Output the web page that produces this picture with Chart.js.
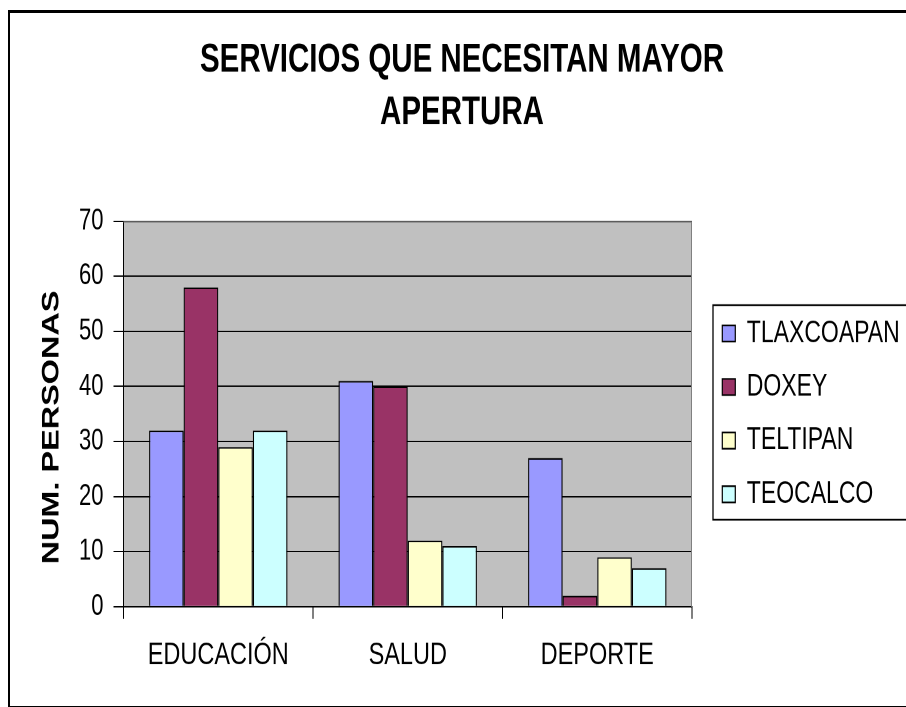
<!DOCTYPE html>
<html>
<head>
<meta charset="utf-8">
<title>Servicios que necesitan mayor apertura</title>
<script src="https://cdn.jsdelivr.net/npm/chart.js@4.4.1/dist/chart.umd.min.js"></script>
<style>
    html, body { margin: 0; padding: 0; background: #fff; overflow: hidden; width: 906px; height: 707px; }
    #frame { position: absolute; left: 8px; top: 10px; width: 1000px; height: 693px; border: 2px solid #000; border-top-width: 3px; }
    /* the original picture is stretched vertically, so the chart is drawn flat and scaled */
    #wrap { position: absolute; left: 0; top: 0; width: 911px; height: 524px; transform: scaleY(1.35); transform-origin: 0 0; }
</style>
</head>
<body>
<div id="frame"></div>
<div id="wrap"><canvas id="serviciosChart" width="911" height="524"></canvas></div>
<script>
const categories = ['EDUCACIÓN', 'SALUD', 'DEPORTE'];
const seriesNames = ['TLAXCOAPAN', 'DOXEY', 'TELTIPAN', 'TEOCALCO'];
const tlaxcoapan = [32, 41, 27];
const doxey = [58, 40, 2];
const teltipan = [29, 12, 9];
const teocalco = [32, 11, 7];
const yMin = 0;
const yMax = 70;
const yStep = 10;

const colors = ['#9999FF', '#993366', '#FFFFCC', '#CCFFFF'];
const values = [tlaxcoapan, doxey, teltipan, teocalco];
const fontFamily = "'Liberation Sans', Arial, sans-serif";

// gray plot area, its outline and the box round the legend
const plotBackground = {
    id: 'plotBackground',
    beforeDraw(chart) {
        const { ctx, chartArea } = chart;
        ctx.save();
        ctx.fillStyle = '#C0C0C0';
        ctx.fillRect(chartArea.left, chartArea.top, chartArea.right - chartArea.left, chartArea.bottom - chartArea.top);
        ctx.restore();
    },
    afterLayout(chart) {
        // put the legend beside the plot, as in the original
        const legend = chart.legend;
        legend.left = 705.6;
        legend.top = 218.8;
        legend.right = 911;
        legend.bottom = 400;
        legend.width = legend.right - legend.left;
        legend.height = legend.bottom - legend.top;
    },
    afterDraw(chart) {
        const { ctx, chartArea } = chart;
        ctx.save();
        ctx.strokeStyle = '#808080';
        ctx.lineWidth = 1;
        ctx.beginPath();
        ctx.moveTo(chartArea.left, chartArea.top + 0.5);
        ctx.lineTo(chartArea.right - 0.5, chartArea.top + 0.5);
        ctx.lineTo(chartArea.right - 0.5, chartArea.bottom);
        ctx.stroke();
        ctx.strokeStyle = '#000';
        ctx.lineWidth = 1.3;
        ctx.strokeRect(713, 226, 260, 159);
        ctx.restore();
    }
};

const ctx = document.getElementById('serviciosChart').getContext('2d');
const serviciosChart = new Chart(ctx, {
    type: 'bar',
    data: {
        labels: categories,
        datasets: seriesNames.map((name, i) => ({
            label: name,
            data: values[i],
            backgroundColor: colors[i],
            borderColor: '#000',
            borderWidth: 1.2,
            barPercentage: 1,
            categoryPercentage: 0.73
        }))
    },
    options: {
        responsive: false,
        animation: false,
        devicePixelRatio: 2,
        layout: { padding: { left: 13, right: 0, top: 0, bottom: 11.4 } },
        scales: {
            x: {
                grid: { display: true, drawOnChartArea: false, drawTicks: true, tickLength: 9, color: '#000', lineWidth: 1 },
                border: { display: true, color: '#000', width: 1 },
                ticks: { color: '#000', padding: 13, font: { family: fontFamily, size: 23.5 } }
            },
            y: {
                min: yMin,
                max: yMax,
                afterFit(scale) { scale.width = 110.5; },
                ticks: { stepSize: yStep, color: '#000', padding: 10, font: { family: fontFamily, size: 22 } },
                grid: { color: '#000', lineWidth: 1, tickLength: 10, drawTicks: true },
                border: { display: true, color: '#000', width: 1 },
                title: {
                    display: true,
                    text: 'NUM. PERSONAS   ',
                    color: '#000',
                    padding: { top: 24.6, bottom: 0 },
                    font: { family: fontFamily, size: 24, weight: 'bold' }
                }
            },
            yRight: {
                type: 'linear',
                position: 'right',
                display: true,
                afterFit(scale) { scale.width = 219; },
                grid: { display: false },
                ticks: { display: false },
                border: { display: false }
            }
        },
        plugins: {
            title: {
                display: true,
                text: ['SERVICIOS QUE NECESITAN MAYOR', 'APERTURA'],
                color: '#000',
                padding: { top: 25.2, bottom: 60.8 },
                font: { family: fontFamily, size: 29.5, weight: 'bold', lineHeight: 1.32 }
            },
            legend: {
                display: true,
                position: 'chartArea',
                align: 'start',
                labels: {
                    color: '#000',
                    boxWidth: 13,
                    boxHeight: 12,
                    padding: 16.7,
                    font: { family: fontFamily, size: 23 }
                }
            },
            tooltip: { enabled: false }
        }
    },
    plugins: [plotBackground]
});
</script>
</body>
</html>
